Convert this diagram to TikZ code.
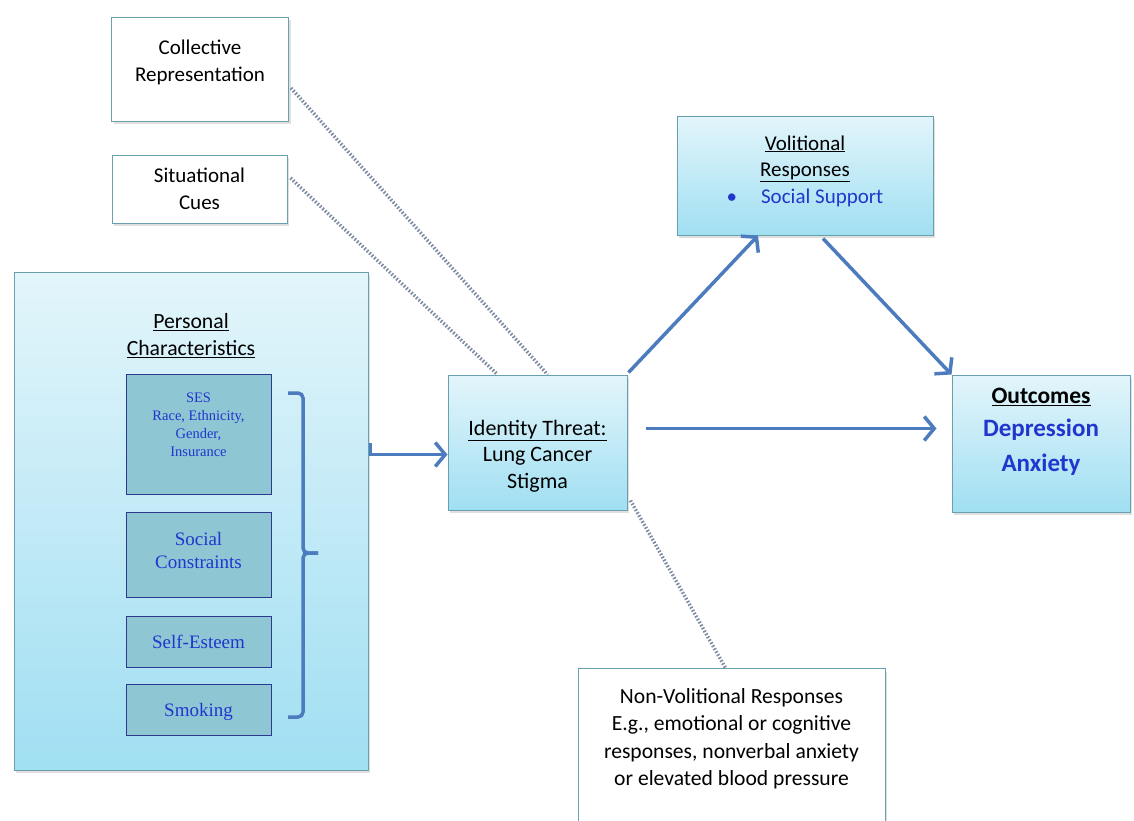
\documentclass[tikz,border=0pt]{standalone}
\usepackage{fontspec}
\setmainfont{Carlito}
\newfontfamily\serifbl{Liberation Serif}
\usetikzlibrary{arrows.meta,calc,shadows}
\definecolor{boxtop}{HTML}{E3F5FB}
\definecolor{boxbot}{HTML}{A0DFF2}
\definecolor{boxedge}{HTML}{6A9FAE}
\definecolor{innerfill}{HTML}{8EC6D4}
\definecolor{inneredge}{HTML}{2B3A8C}
\definecolor{txtblue}{HTML}{2036CC}
\definecolor{arrowcol}{HTML}{4C7CBD}
\definecolor{dotcol}{HTML}{7E8CA3}
\tikzset{
  shad/.style={drop shadow={opacity=0.25,shadow xshift=2pt,shadow yshift=-3pt}},
  whitebox/.style={draw=boxedge,line width=1pt,fill=white,shad,align=center,inner sep=0pt},
  bluebox/.style={draw=boxedge,line width=1pt,top color=boxtop,bottom color=boxbot,shad,align=center,inner sep=0pt},
  innerbox/.style={draw=inneredge,line width=1pt,fill=innerfill,align=center,inner sep=0pt,
    minimum width=145pt,text=txtblue,font=\serifbl\fontsize{19}{23}\selectfont},
  mainarrow/.style={draw=arrowcol,line width=3.5pt,-{Straight Barb[length=10pt,width=24pt,line width=3.5pt]}},
  dotline/.style={draw=dotcol,line width=3.5pt,dash pattern=on 1.6pt off 1.8pt},
  bracket/.style={draw=arrowcol,line width=3.5pt,rounded corners=5pt},
  bigtxt/.style={font=\fontsize{21}{27}\selectfont}
}
\begin{document}
\begin{tikzpicture}[x=1pt,y=-1pt]
\useasboundingbox (0,0) rectangle (1134,820);
\clip (0,0) rectangle (1134,820);
% top-left boxes
\node[whitebox,bigtxt,minimum width=177pt,minimum height=104pt] (cr) at (200,69) {Collective\\Representation\\[-11pt]\mbox{}};
\node[whitebox,bigtxt,minimum width=175pt,minimum height=68pt] (sc) at (199.5,189) {Situational\\Cues};
% personal characteristics
\node[bluebox,minimum width=354pt,minimum height=498pt] (pc) at (191,521) {};
\node[font=\fontsize{21.7}{27}\selectfont,align=center] (pct) at (191,336) {\underline{Personal}\\\underline{Characteristics}};
\node[innerbox,minimum height=120pt,font=\serifbl\fontsize{14.5}{18}\selectfont] (ses) at (198.5,434) {SES\\Race, Ethnicity,\\Gender,\\Insurance\\[0pt]\mbox{}};
\node[innerbox,minimum height=85pt] (scn) at (198.5,554.5) {Social\\Constraints\\[-15pt]\mbox{}};
\node[innerbox,minimum height=51pt] (se) at (198.5,641.5) {Self-Esteem};
\node[innerbox,minimum height=51pt] (sm) at (198.5,709.5) {\rule{0pt}{18pt}Smoking};
\draw[bracket] (288,393) -- (303,393) -- (303,553) -- (318,553);
\draw[bracket] (318,553) -- (303,553) -- (303,717) -- (288,717);
% identity threat
\node[bluebox,font=\fontsize{22}{26.5}\selectfont,minimum width=179pt,minimum height=135pt] (it) at (537.5,442.5) {\rule{0pt}{42pt}\underline{Identity Threat:}\\Lung Cancer\\Stigma};
% volitional
\node[bluebox,font=\fontsize{21}{26.5}\selectfont,minimum width=256pt,minimum height=119pt] (vr) at (805,175.5) {\underline{Volitional}\\\underline{Responses}\\\textcolor{txtblue}{\textbullet\hspace{24pt}Social Support}\\[-14pt]\mbox{}};
% outcomes
\node[bluebox,minimum width=178pt,minimum height=137pt,font=\bfseries\fontsize{25}{35}\selectfont] (oc) at (1041,443.5) {\textcolor{black}{\fontsize{23.5}{24}\selectfont\underline{Outcomes}}\\[-2pt]\textcolor{txtblue}{Depression}\\\textcolor{txtblue}{Anxiety}\\[-7pt]\mbox{}};
% non-volitional
\node[whitebox,anchor=north,font=\fontsize{21.6}{27.3}\selectfont,minimum width=307pt,inner ysep=20pt] (nv) at (731.5,668) {Non-Volitional Responses\\E.g., emotional or cognitive\\responses, nonverbal anxiety\\or elevated blood pressure\\[60pt]\mbox{}};
% dotted connectors
\draw[dotline] ($(cr.east)+(2,19)$) -- ($(it.north)+(10,0)$);
\draw[dotline] ($(sc.east)+(3,-11)$) -- ($(it.north)+(-40,0)$);
\draw[dotline] ($(it.south east)+(3,-10)$) -- ($(nv.north)+(-6,0)$);
% arrows
\draw[mainarrow] ($(pc.east)+(2,-78)$) |- ($(it.west)+(0,12)$);
\draw[mainarrow] ($(it.north east)+(1,-2)$) -- ($(vr.south)+(-47,0)$);
\draw[mainarrow] ($(vr.south)+(18,3)$) -- (oc.north west);
\draw[mainarrow] ($(it.east)+(18,-14)$) -- ($(oc.west)+(-15,-15)$);
\end{tikzpicture}
\end{document}
